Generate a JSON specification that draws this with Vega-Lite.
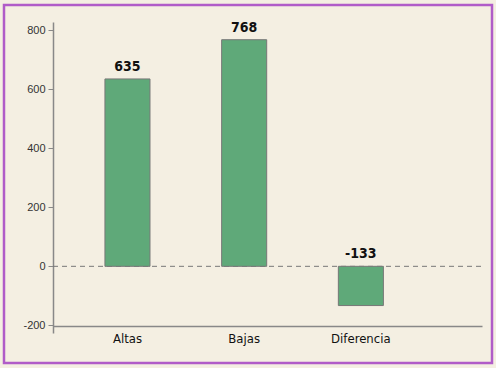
{
  "$schema": "https://vega.github.io/schema/vega-lite/v6.json",
  "width": 488,
  "height": 358,
  "autosize": {"type": "none"},
  "padding": {"left": 4, "top": 5, "right": 4, "bottom": 5},
  "background": "#f4efe2",
  "config": {
    "view": {"stroke": "#b05cc8", "strokeWidth": 2.5, "fill": "#f4efe2"},
    "axis": {"domainColor": "#888", "domainWidth": 1.5, "tickColor": "#888", "grid": false, "title": null}
  },
  "data": {"values": [
    {"categoria": "Altas", "valor": 635},
    {"categoria": "Bajas", "valor": 768},
    {"categoria": "Diferencia", "valor": -133}
  ]},
  "layer": [
    {
      "data": {"values": [{"a": 0, "b": 1, "y": 0}]},
      "mark": {"type": "rule", "strokeDash": [5, 4], "color": "#777", "strokeWidth": 1},
      "encoding": {
        "x": {"field": "a", "type": "quantitative", "scale": {"domain": [0, 1], "range": [49, 478]}, "axis": null},
        "x2": {"field": "b"},
        "y": {"field": "y", "type": "quantitative", "title": null}
      }
    },
    {
      "encoding": {
        "x": {
          "field": "categoria", "type": "nominal", "sort": null,
          "scale": {"range": [49, 478], "paddingInner": 0.614, "paddingOuter": 0.645, "align": 0.345},
          "axis": {"orient": "bottom", "offset": -37, "ticks": false, "labelAngle": 0, "labelPadding": 6,
                   "labelFont": "DejaVu Sans Condensed", "labelFontSize": 13, "labelColor": "#111"}
        }
      },
      "layer": [
        {
          "mark": {"type": "bar", "color": "#5fa979", "stroke": "#777", "strokeWidth": 1},
          "encoding": {
            "y": {
              "field": "valor", "type": "quantitative",
              "scale": {"domain": [-226, 828], "range": [328, 17], "nice": false, "zero": false},
              "axis": {"values": [-200, 0, 200, 400, 600, 800], "offset": -49, "tickSize": 5, "labelPadding": 3,
                       "labelExpr": "datum.value + ''",
                       "labelFont": "Liberation Sans", "labelFontSize": 11, "labelColor": "#333"}
            }
          }
        },
        {
          "transform": [{"calculate": "max(datum.valor, 0)", "as": "pos"}],
          "mark": {"type": "text", "baseline": "alphabetic", "dy": -8, "fontWeight": "bold",
                   "font": "DejaVu Sans Condensed", "fontSize": 14, "color": "#111"},
          "encoding": {
            "y": {"field": "pos", "type": "quantitative"},
            "text": {"field": "valor", "type": "nominal"}
          }
        }
      ]
    }
  ],
  "resolve": {"scale": {"x": "independent"}}
}
